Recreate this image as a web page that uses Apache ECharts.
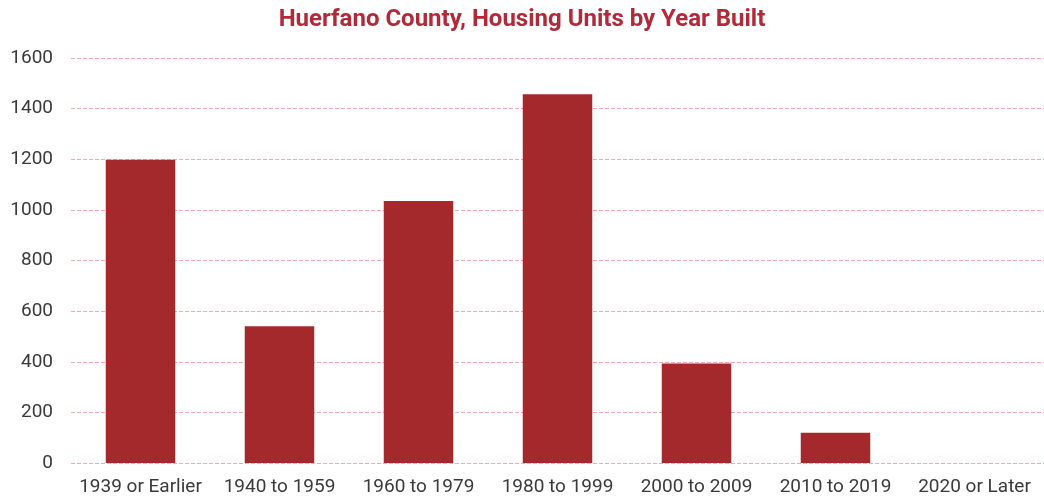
<!DOCTYPE html>
<html>
<head>
<meta charset="utf-8">
<script src="https://cdn.jsdelivr.net/npm/echarts@6/dist/echarts.min.js"></script>
<style>
  html, body { margin: 0; padding: 0; background: #fff; }
  #chart { width: 1044px; height: 499px; }
</style>
</head>
<body>
<div id="chart"></div>
<script>
// Housing units by year built, Huerfano County
const categories = ['1939 or Earlier', '1940 to 1959', '1960 to 1979', '1980 to 1999', '2000 to 2009', '2010 to 2019', '2020 or Later'];
const housingUnits = [1198, 540, 1035, 1457, 393, 120, 0];
const yTicks = [0, 200, 400, 600, 800, 1000, 1200, 1400, 1600];

const chart = echarts.init(document.getElementById('chart'));
chart.setOption({
  animation: false,
  backgroundColor: '#ffffff',
  title: {
    text: 'Huerfano County, Housing Units by Year Built',
    left: 'center',
    top: 3,
    textStyle: {
      fontFamily: 'Roboto',
      fontSize: 24,
      fontWeight: 'bold',
      color: '#b02a3a'
    }
  },
  grid: { left: 71, right: 0, top: 58, bottom: 36 },
  xAxis: {
    type: 'category',
    data: categories,
    axisLine: { show: false },
    axisTick: { show: false },
    axisLabel: {
      fontFamily: 'Roboto',
      fontSize: 19,
      color: '#3a3a3a',
      margin: 15,
      interval: 0
    }
  },
  yAxis: {
    type: 'value',
    min: yTicks[0],
    max: yTicks[yTicks.length - 1],
    interval: 200,
    axisLine: { show: false },
    axisTick: { show: false },
    axisLabel: {
      fontFamily: 'Roboto',
      fontSize: 19,
      color: '#3a3a3a',
      margin: 18,
      formatter: function (v) { return String(v); }
    },
    splitLine: {
      show: true,
      lineStyle: { color: '#eea9b1', type: [4, 2], width: 1 }
    }
  },
  series: [{
    type: 'bar',
    data: housingUnits,
    barWidth: '50%',
    itemStyle: { color: '#a3292d' }
  }]
});
</script>
</body>
</html>
